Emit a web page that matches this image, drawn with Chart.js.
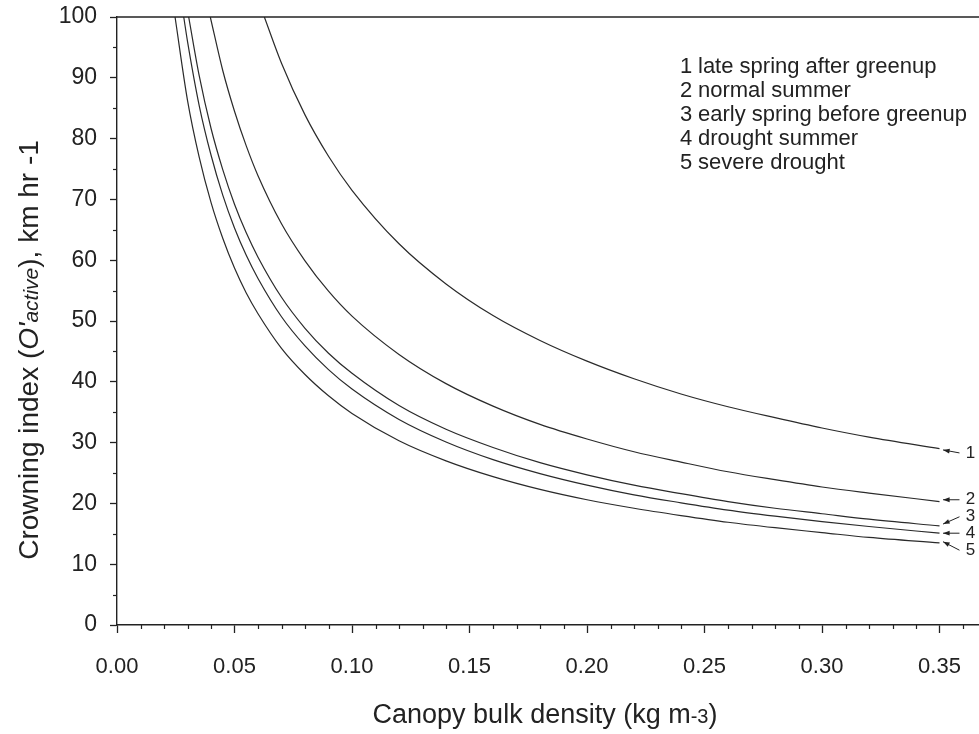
<!DOCTYPE html>
<html>
<head>
<meta charset="utf-8">
<script src="https://cdn.jsdelivr.net/npm/chart.js@4.4.1/dist/chart.umd.min.js"></script>
<style>
  html, body { margin: 0; padding: 0; background: #fff; }
  #wrap { width: 979px; height: 734px; }
</style>
</head>
<body>
<div id="wrap"><canvas id="myChart" width="979" height="734"></canvas></div>
<script>
// fuel moisture scenarios, numbered as in the figure
const scenarioNames = ["late spring after greenup", "normal summer", "early spring before greenup", "drought summer", "severe drought"];
const scenarioNumbers = ["1", "2", "3", "4", "5"];

// canopy bulk density (kg m-3) and crowning index (km/hr)
const cbd1 = [0.0627, 0.07, 0.08, 0.09, 0.10, 0.12, 0.14, 0.16, 0.18, 0.20, 0.22, 0.24, 0.26, 0.28, 0.30, 0.32, 0.35];
const ci1  = [100, 92.4, 83.9, 77.1, 71.5, 62.7, 56.1, 50.9, 46.8, 43.4, 40.5, 38.0, 35.9, 34.1, 32.4, 30.9, 29.0];

const cbd2 = [0.0397, 0.045, 0.05, 0.055, 0.06, 0.07, 0.08, 0.09, 0.10, 0.12, 0.14, 0.16, 0.18, 0.20, 0.22, 0.24, 0.26, 0.28, 0.30, 0.32, 0.35];
const ci2  = [100, 91.2, 84.5, 78.8, 73.9, 66.0, 59.9, 54.9, 50.8, 44.5, 39.7, 36.0, 33.0, 30.6, 28.5, 26.8, 25.2, 23.9, 22.7, 21.7, 20.3];

const cbd3 = [0.0305, 0.035, 0.04, 0.045, 0.05, 0.055, 0.06, 0.07, 0.08, 0.09, 0.10, 0.12, 0.14, 0.16, 0.18, 0.20, 0.22, 0.24, 0.26, 0.28, 0.30, 0.32, 0.35];
const ci3  = [100, 90.3, 81.7, 74.9, 69.2, 64.5, 60.5, 53.9, 48.8, 44.7, 41.4, 36.1, 32.2, 29.2, 26.7, 24.7, 23.0, 21.6, 20.3, 19.2, 18.3, 17.4, 16.3];

const cbd4 = [0.0284, 0.03, 0.035, 0.04, 0.045, 0.05, 0.055, 0.06, 0.07, 0.08, 0.09, 0.10, 0.12, 0.14, 0.16, 0.18, 0.20, 0.22, 0.24, 0.26, 0.28, 0.30, 0.32, 0.35];
const ci4  = [100, 96.0, 85.4, 77.3, 70.7, 65.3, 60.8, 57.0, 50.7, 45.9, 42.0, 38.8, 33.8, 30.1, 27.2, 24.9, 23.0, 21.4, 20.1, 18.9, 17.9, 17.0, 16.2, 15.1];

const cbd5 = [0.0247, 0.03, 0.035, 0.04, 0.045, 0.05, 0.055, 0.06, 0.07, 0.08, 0.09, 0.10, 0.12, 0.14, 0.16, 0.18, 0.20, 0.22, 0.24, 0.26, 0.28, 0.30, 0.32, 0.35];
const ci5  = [100, 86.3, 76.9, 69.5, 63.6, 58.7, 54.6, 51.2, 45.5, 41.2, 37.7, 34.8, 30.3, 27.0, 24.4, 22.3, 20.6, 19.2, 18.0, 16.9, 16.0, 15.2, 14.4, 13.5];

// tick labels
const xTickValues = [0.00, 0.05, 0.10, 0.15, 0.20, 0.25, 0.30, 0.35];
const yTickValues = [0, 10, 20, 30, 40, 50, 60, 70, 80, 90, 100];

// where the little numbered arrows at the curve ends sit (in data units)
const endLabelY = [28.3, 20.6, 17.8, 15.1, 12.3];
const endArrowY = [28.8, 20.6, 16.6, 15.1, 13.7];

const INK = "#222";
const FONT = "'Liberation Sans', Arial, Helvetica, sans-serif";

function toPoints(xs, ys) {
  return xs.map((x, i) => ({ x: x, y: ys[i] }));
}

const curves = [[cbd1, ci1], [cbd2, ci2], [cbd3, ci3], [cbd4, ci4], [cbd5, ci5]];

// draws pieces of text with different fonts one after the other
function drawRich(ctx, parts, x, y, align) {
  let total = 0;
  parts.forEach(p => { ctx.font = p.font; total += ctx.measureText(p.text).width; });
  let cx = align === "center" ? x - total / 2 : x;
  parts.forEach(p => {
    ctx.font = p.font;
    ctx.fillText(p.text, cx, y + (p.dy || 0));
    cx += ctx.measureText(p.text).width;
  });
}

const decorations = {
  id: "decorations",
  afterDraw(chart) {
    const ctx = chart.ctx;
    const xs = chart.scales.x;
    const ys = chart.scales.y;
    const area = chart.chartArea;
    ctx.save();
    ctx.strokeStyle = INK;
    ctx.fillStyle = INK;
    ctx.lineWidth = 1.4;

    // top frame line
    ctx.beginPath();
    ctx.moveTo(area.left, area.top);
    ctx.lineTo(chart.width, area.top);
    ctx.stroke();

    // minor ticks
    ctx.lineWidth = 1.2;
    for (let i = 1; i <= 36; i++) {
      if (i % 5 === 0) continue;
      const px = Math.round(xs.getPixelForValue(i / 100)) + 0.5;
      ctx.beginPath();
      ctx.moveTo(px, area.bottom);
      ctx.lineTo(px, area.bottom + 4);
      ctx.stroke();
    }
    for (let v = 5; v < 100; v += 10) {
      const py = Math.round(ys.getPixelForValue(v)) + 0.5;
      ctx.beginPath();
      ctx.moveTo(area.left - 4, py);
      ctx.lineTo(area.left, py);
      ctx.stroke();
    }

    // legend text block
    ctx.textBaseline = "middle";
    ctx.textAlign = "left";
    ctx.font = "22px " + FONT;
    scenarioNames.forEach((name, i) => {
      const y = 67 + i * 24;
      ctx.fillText(scenarioNumbers[i], 680, y);
      ctx.fillText(name, 698, y);
    });

    // numbered arrows at the curve ends
    ctx.font = "17px " + FONT;
    ctx.lineWidth = 1;
    scenarioNumbers.forEach((num, i) => {
      const lx = xs.getPixelForValue(0.3612);
      const ly = ys.getPixelForValue(endLabelY[i]);
      const tx = xs.getPixelForValue(0.3585);
      const hx = xs.getPixelForValue(0.3515);
      const hy = ys.getPixelForValue(endArrowY[i]);
      ctx.fillText(num, lx, ly);
      ctx.beginPath();
      ctx.moveTo(tx, ly);
      ctx.lineTo(hx, hy);
      ctx.stroke();
      const ang = Math.atan2(hy - ly, hx - tx);
      ctx.beginPath();
      ctx.moveTo(hx, hy);
      ctx.lineTo(hx - 7 * Math.cos(ang - 0.35), hy - 7 * Math.sin(ang - 0.35));
      ctx.lineTo(hx - 7 * Math.cos(ang + 0.35), hy - 7 * Math.sin(ang + 0.35));
      ctx.closePath();
      ctx.fill();
    });

    // axis titles
    ctx.textBaseline = "alphabetic";
    ctx.textAlign = "left";
    drawRich(ctx, [
      { text: "Canopy bulk density (kg m", font: "27px " + FONT },
      { text: "-3", font: "20px " + FONT },
      { text: ")", font: "27px " + FONT }
    ], 545, 723, "center");

    ctx.translate(38, 350);
    ctx.rotate(-Math.PI / 2);
    drawRich(ctx, [
      { text: "Crowning index (", font: "28px " + FONT },
      { text: "O'", font: "italic 28px " + FONT },
      { text: "active", font: "italic 21px " + FONT },
      { text: "), km hr -1", font: "28px " + FONT }
    ], 0, 0, "center");
    ctx.restore();
  }
};

const graphic = document.getElementById("myChart").getContext("2d");

const myChart = new Chart(graphic, {
  type: "line",
  data: {
    datasets: curves.map((c, i) => ({
      label: scenarioNumbers[i] + " " + scenarioNames[i],
      data: toPoints(c[0], c[1]),
      borderColor: "#2a2a2a",
      borderWidth: 1.2,
      pointRadius: 0,
      fill: false,
      cubicInterpolationMode: "monotone"
    }))
  },
  options: {
    responsive: false,
    animation: false,
    devicePixelRatio: 1,
    layout: { padding: { top: 17, right: 0, left: 0, bottom: 0 } },
    plugins: {
      legend: { display: false },
      tooltip: { enabled: false }
    },
    scales: {
      x: {
        type: "linear",
        min: 0,
        max: 0.3668,
        afterBuildTicks: (scale) => { scale.ticks = xTickValues.map(v => ({ value: v })); },
        afterFit: (scale) => {
          scale.height = 109;
          scale.paddingLeft = 0;
          scale.paddingRight = 0;
        },
        grid: { drawOnChartArea: false, drawTicks: true, tickLength: 8, tickColor: INK, tickWidth: 1.3 },
        border: { display: true, color: INK, width: 1.4 },
        ticks: {
          color: INK,
          font: { family: FONT, size: 22 },
          padding: 21,
          maxRotation: 0,
          callback: (v) => Number(v).toFixed(2)
        }
      },
      y: {
        min: 0,
        max: 100,
        afterBuildTicks: (scale) => { scale.ticks = yTickValues.map(v => ({ value: v })); },
        afterFit: (scale) => {
          scale.width = 117;
          scale.paddingTop = 0;
          scale.paddingBottom = 0;
        },
        grid: { drawOnChartArea: false, drawTicks: true, tickLength: 7, tickColor: INK, tickWidth: 1.3 },
        border: { display: true, color: INK, width: 1.4 },
        ticks: {
          color: INK,
          font: { family: FONT, size: 23 },
          padding: 13
        }
      }
    }
  },
  plugins: [decorations]
});
</script>
</body>
</html>
